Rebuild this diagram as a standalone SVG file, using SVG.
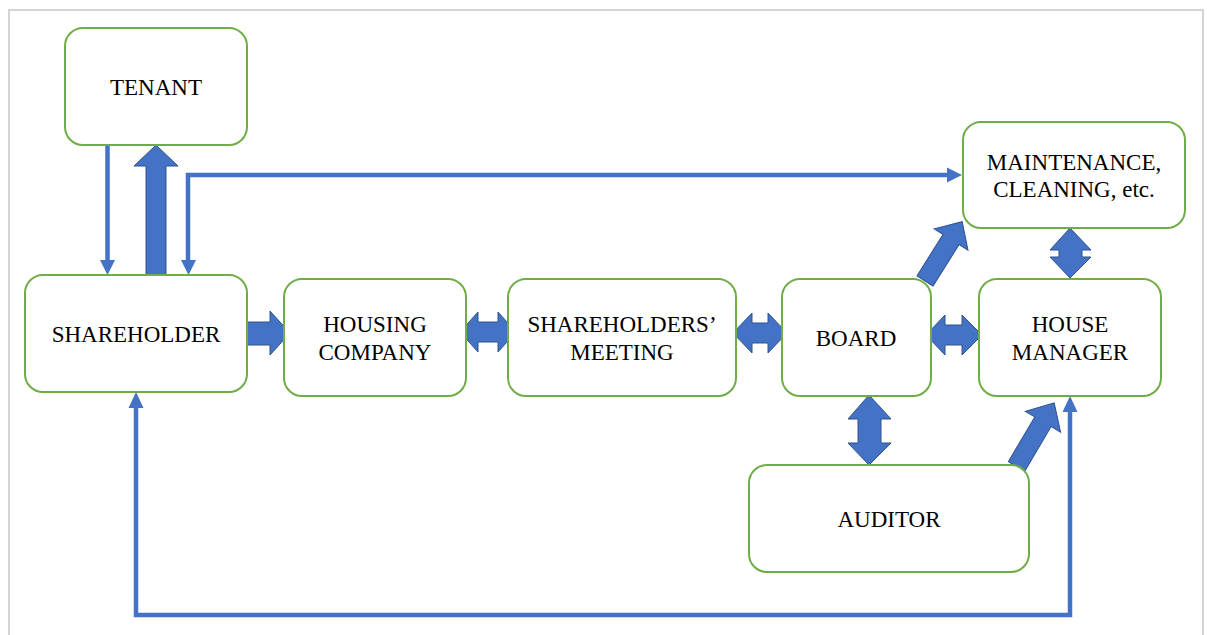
<svg xmlns="http://www.w3.org/2000/svg" width="1207" height="635" viewBox="0 0 1207 635">
<style>
.box{fill:#fff;stroke:#70AD47;stroke-width:2}
.lbl{font-size:23px;fill:#000;text-anchor:middle}
.thin{fill:none;stroke:#4472C4;stroke-width:4.5}
.head{fill:#4472C4}
.blk{fill:#4472C4;stroke:#2F528F;stroke-width:1}
</style>
<rect x="0" y="0" width="1207" height="635" fill="#fff"/>
<rect x="9" y="10" width="1194" height="640" fill="none" stroke="#d4d4d4" stroke-width="2"/>
<g id="connectors">
<line class="thin" x1="107.5" y1="145" x2="107.5" y2="261"/>
<polygon class="head" points="100,260 115,260 107.5,275"/>
<polygon class="blk" points="146,275 146,166 134,166 156,145 178,166 166,166 166,275"/>
<path class="thin" d="M188,261 V175 H948"/>
<polygon class="head" points="181,260 196,260 188.5,275"/>
<polygon class="head" points="947,167.5 947,182.5 962,175"/>
<polygon class="blk" points="241,322 270,322 270,311 290,333 270,355 270,345 241,345"/>
<polygon class="blk" points="460,332 478,312 478,322 498,322 498,312 516,332 498,352 498,342 478,342 478,352"/>
<polygon class="blk" points="733,333 752,313 752,323 768,323 768,313 787,333 768,353 768,343 752,343 752,353"/>
<polygon class="blk" points="926,335 945,315 945,325 962,325 962,315 982,335 962,355 962,345 945,345 945,355"/>
<polygon class="blk" points="869,395 891,419 881,419 881,443 891,443 869,465 848,443 858,443 858,419 848,419"/>
<polygon class="blk" points="1070,228 1091,250 1082,250 1082,257 1091,257 1070,278 1050,257 1059,257 1059,250 1050,250"/>
<polygon class="blk" transform="translate(925,281) rotate(-57.9)" points="0,-9.5 49,-9.5 49,-20 70,0 49,20 49,9.5 0,9.5"/>
<polygon class="blk" transform="translate(1016.5,466.5) rotate(-59.4)" points="0,-9.5 52,-9.5 52,-20.5 74,0 52,20.5 52,9.5 0,9.5"/>
<path class="thin" d="M1070,411 V615 H136 V407"/>
<polygon class="head" points="1062.5,412 1077.5,412 1070,396"/>
<polygon class="head" points="128.5,408 143.5,408 136,392"/>
</g>
<g font-family="'Liberation Serif', 'DejaVu Serif', serif">
<g id="tenant"><rect class="box" x="65" y="28" width="182" height="117" rx="18"/><text class="lbl" x="156" y="95">TENANT</text></g>
<g id="shareholder"><rect class="box" x="25" y="275" width="222" height="117" rx="18"/><text class="lbl" x="136" y="342">SHAREHOLDER</text></g>
<g id="housing-company"><rect class="box" x="284" y="279" width="182" height="117" rx="18"/><text class="lbl" x="375" y="332">HOUSING</text><text class="lbl" x="375" y="360">COMPANY</text></g>
<g id="shareholders-meeting"><rect class="box" x="508" y="279" width="228" height="117" rx="18"/><text class="lbl" x="622" y="332">SHAREHOLDERS’</text><text class="lbl" x="622" y="360">MEETING</text></g>
<g id="board"><rect class="box" x="782" y="279" width="149" height="117" rx="18"/><text class="lbl" x="856" y="346">BOARD</text></g>
<g id="house-manager"><rect class="box" x="979" y="279" width="182" height="117" rx="18"/><text class="lbl" x="1070" y="332">HOUSE</text><text class="lbl" x="1070" y="360">MANAGER</text></g>
<g id="maintenance"><rect class="box" x="963" y="122" width="222" height="106" rx="18"/><text class="lbl" x="1074" y="170">MAINTENANCE,</text><text class="lbl" x="1074" y="197">CLEANING, etc.</text></g>
<g id="auditor"><rect class="box" x="749" y="465" width="280" height="107" rx="18"/><text class="lbl" x="889" y="527">AUDITOR</text></g>
</g>
</svg>
